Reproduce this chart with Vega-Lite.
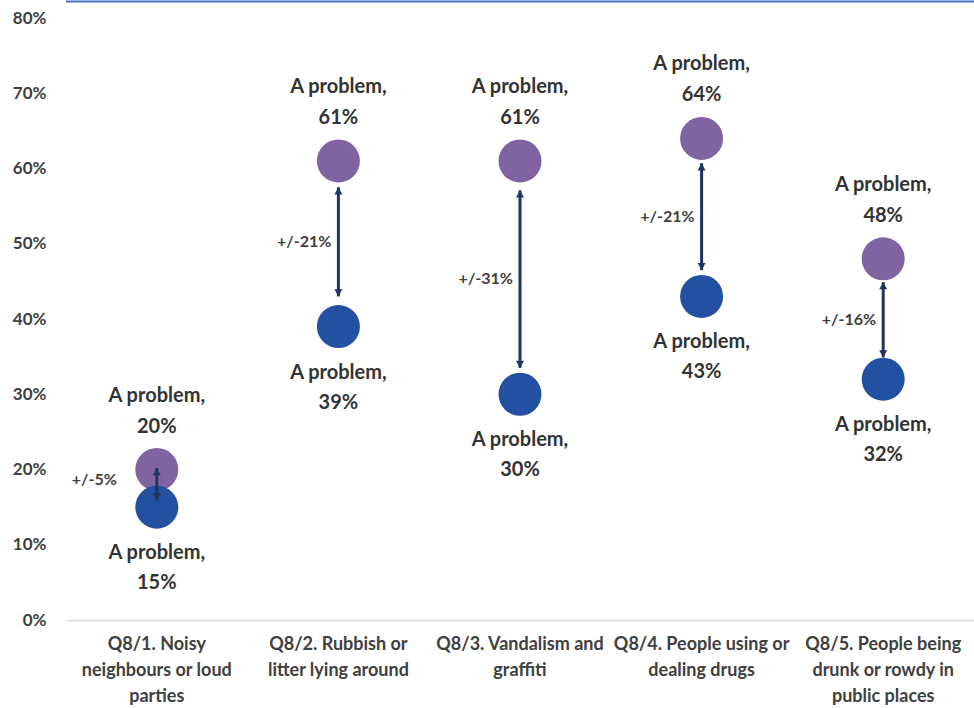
{
  "$schema": "https://vega.github.io/schema/vega-lite/v6.json",
  "width": 908,
  "height": 602,
  "autosize": {"type": "none"},
  "padding": {"left": 66, "top": 18, "right": 0, "bottom": 88},
  "background": "white",
  "config": {"view": {"stroke": null}, "font": "Lato"},
  "datasets": {
    "points": [
      {"category": "Q8/1. Noisy|neighbours or loud|parties", "group": "top", "value": 0.20},
      {"category": "Q8/2. Rubbish or|litter lying around", "group": "top", "value": 0.61},
      {"category": "Q8/3. Vandalism and|graffiti", "group": "top", "value": 0.61},
      {"category": "Q8/4. People using or|dealing drugs", "group": "top", "value": 0.64},
      {"category": "Q8/5. People being|drunk or rowdy in|public places", "group": "top", "value": 0.48},
      {"category": "Q8/1. Noisy|neighbours or loud|parties", "group": "bottom", "value": 0.15},
      {"category": "Q8/2. Rubbish or|litter lying around", "group": "bottom", "value": 0.39},
      {"category": "Q8/3. Vandalism and|graffiti", "group": "bottom", "value": 0.30},
      {"category": "Q8/4. People using or|dealing drugs", "group": "bottom", "value": 0.43},
      {"category": "Q8/5. People being|drunk or rowdy in|public places", "group": "bottom", "value": 0.32}
    ],
    "arrows": [
      {"category": "Q8/1. Noisy|neighbours or loud|parties", "from": 0.159, "to": 0.202, "label": "+/-5%"},
      {"category": "Q8/2. Rubbish or|litter lying around", "from": 0.43, "to": 0.575, "label": "+/-21%"},
      {"category": "Q8/3. Vandalism and|graffiti", "from": 0.335, "to": 0.571, "label": "+/-31%"},
      {"category": "Q8/4. People using or|dealing drugs", "from": 0.465, "to": 0.607, "label": "+/-21%"},
      {"category": "Q8/5. People being|drunk or rowdy in|public places", "from": 0.349, "to": 0.449, "label": "+/-16%"}
    ]
  },
  "layer": [
    {
      "data": {"name": "points"},
      "mark": {"type": "point", "filled": true, "opacity": 1, "size": 1850, "shape": "circle"},
      "encoding": {
        "x": {
          "field": "category", "type": "nominal", "sort": null,
          "scale": {"paddingInner": 0, "paddingOuter": 0},
          "axis": {
            "title": null, "labelAngle": 0, "labelExpr": "split(datum.label, '|')",
            "ticks": false, "domainColor": "#d9d9d9", "domainWidth": 1.5,
            "labelPadding": 15, "labelBaseline": "top", "labelFontSize": 18, "labelFontWeight": "bold",
            "labelColor": "#404040", "labelLineHeight": 26, "labelLimit": 0, "labelOverlap": false, "labelBound": false
          }
        },
        "y": {
          "field": "value", "type": "quantitative",
          "scale": {"domain": [0, 0.8], "nice": false},
          "axis": {
            "title": null, "values": [0, 0.1, 0.2, 0.3, 0.4, 0.5, 0.6, 0.7, 0.8], "format": ".0%",
            "grid": false, "ticks": false, "domain": false, "labelPadding": 20,
            "labelFontSize": 17, "labelFontWeight": "bold", "labelColor": "#404040"
          }
        },
        "color": {"field": "group", "type": "nominal", "scale": {"domain": ["top", "bottom"], "range": ["#8064A2", "#2350A0"]}, "legend": null}
      }
    },
    {
      "data": {"name": "arrows"},
      "mark": {"type": "rule", "color": "#1F3560", "strokeWidth": 3},
      "encoding": {
        "x": {"field": "category", "type": "nominal", "sort": null},
        "y": {"field": "from", "type": "quantitative", "title": null},
        "y2": {"field": "to"}
      }
    },
    {
      "data": {"name": "arrows"},
      "mark": {"type": "point", "filled": true, "opacity": 1, "color": "#1F3560", "size": 64, "shape": "M0,0L1,1.8L-1,1.8Z"},
      "encoding": {
        "x": {"field": "category", "type": "nominal", "sort": null},
        "y": {"field": "to", "type": "quantitative", "title": null}
      }
    },
    {
      "data": {"name": "arrows"},
      "mark": {"type": "point", "filled": true, "opacity": 1, "color": "#1F3560", "size": 64, "shape": "M0,0L1,-1.8L-1,-1.8Z"},
      "encoding": {
        "x": {"field": "category", "type": "nominal", "sort": null},
        "y": {"field": "from", "type": "quantitative", "title": null}
      }
    },
    {
      "data": {"name": "arrows"},
      "transform": [{"calculate": "(datum.from + datum.to) / 2", "as": "mid"}, {"filter": "indexof(datum.category, 'Q8/1.') < 0"}],
      "mark": {"type": "text", "align": "right", "baseline": "middle", "dx": -7, "fontSize": 16, "fontWeight": "bold", "color": "#404040"},
      "encoding": {
        "x": {"field": "category", "type": "nominal", "sort": null},
        "y": {"field": "mid", "type": "quantitative", "title": null},
        "text": {"field": "label"}
      }
    },
    {
      "data": {"name": "arrows"},
      "transform": [{"calculate": "(datum.from + datum.to) / 2", "as": "mid"}, {"filter": "indexof(datum.category, 'Q8/1.') >= 0"}],
      "mark": {"type": "text", "align": "right", "baseline": "middle", "dx": -40, "dy": -4, "fontSize": 16, "fontWeight": "bold", "color": "#404040"},
      "encoding": {
        "x": {"field": "category", "type": "nominal", "sort": null},
        "y": {"field": "mid", "type": "quantitative", "title": null},
        "text": {"field": "label"}
      }
    },
    {
      "data": {"name": "points"},
      "transform": [{"filter": "datum.group === 'top'"}],
      "mark": {"type": "text", "align": "center", "baseline": "middle", "dy": -74, "fontSize": 20, "fontWeight": "bold", "color": "#333333"},
      "encoding": {
        "x": {"field": "category", "type": "nominal", "sort": null},
        "y": {"field": "value", "type": "quantitative", "title": null},
        "text": {"value": "A problem,"}
      }
    },
    {
      "data": {"name": "points"},
      "transform": [{"filter": "datum.group === 'top'"}],
      "mark": {"type": "text", "align": "center", "baseline": "middle", "dy": -43, "fontSize": 20, "fontWeight": "bold", "color": "#333333"},
      "encoding": {
        "x": {"field": "category", "type": "nominal", "sort": null},
        "y": {"field": "value", "type": "quantitative", "title": null},
        "text": {"field": "value", "type": "quantitative", "format": ".0%"}
      }
    },
    {
      "data": {"name": "points"},
      "transform": [{"filter": "datum.group === 'bottom'"}],
      "mark": {"type": "text", "align": "center", "baseline": "middle", "dy": 46, "fontSize": 20, "fontWeight": "bold", "color": "#333333"},
      "encoding": {
        "x": {"field": "category", "type": "nominal", "sort": null},
        "y": {"field": "value", "type": "quantitative", "title": null},
        "text": {"value": "A problem,"}
      }
    },
    {
      "data": {"name": "points"},
      "transform": [{"filter": "datum.group === 'bottom'"}],
      "mark": {"type": "text", "align": "center", "baseline": "middle", "dy": 76, "fontSize": 20, "fontWeight": "bold", "color": "#333333"},
      "encoding": {
        "x": {"field": "category", "type": "nominal", "sort": null},
        "y": {"field": "value", "type": "quantitative", "title": null},
        "text": {"field": "value", "type": "quantitative", "format": ".0%"}
      }
    },
    {
      "data": {"values": [{"edge": 0.822}]},
      "mark": {"type": "rule", "color": "#4472C4", "strokeWidth": 2},
      "encoding": {"y": {"field": "edge", "type": "quantitative", "title": null}}
    }
  ]
}
